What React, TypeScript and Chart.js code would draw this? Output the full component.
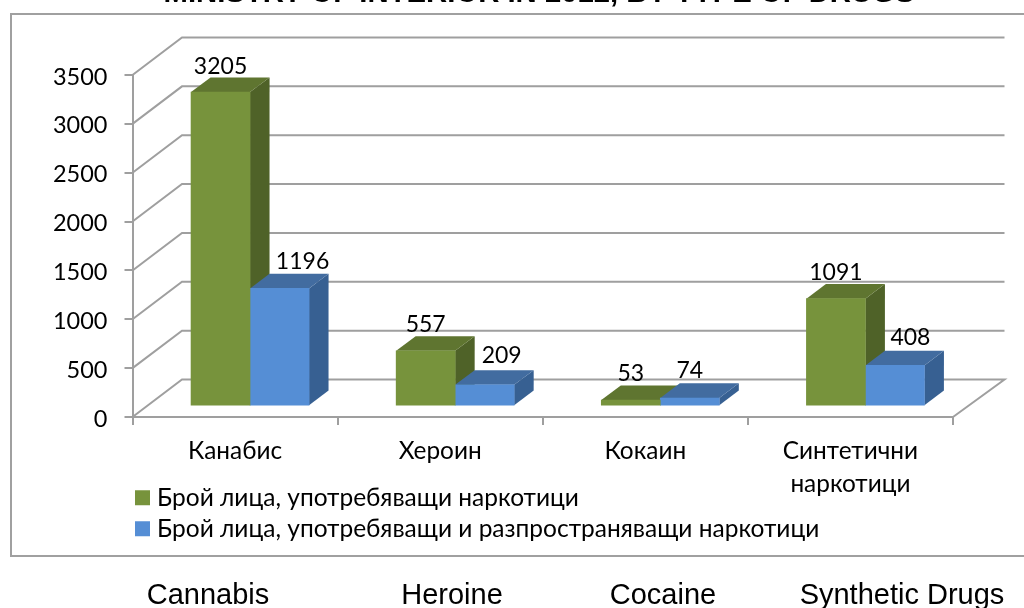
import React, { useEffect, useRef } from "react";
import { Chart, registerables } from "chart.js";

Chart.register(...registerables);

const categories: (string | string[])[] = ["Канабис", "Хероин", "Кокаин", ["Синтетични", "наркотици"]];
const englishCategories = ["Cannabis", "Heroine", "Cocaine", "Synthetic Drugs"];
const users = [3205, 557, 53, 1091];
const usersAndDealers = [1196, 209, 74, 408];
const seriesNames = [
  "Брой лица, употребяващи наркотици",
  "Брой лица, употребяващи и разпространяващи наркотици",
];
const titleText = "MINISTRY OF INTERIOR IN 2012, BY TYPE OF DRUGS";

const FONT = "Lato, 'Noto Sans', sans-serif";
const GRID = "#9f9f9f";
const colors = ["#77933c", "#558ed5"];
const faces = [
  { top: "#5f7530", side: "#4f6228" },
  { top: "#426ca0", side: "#376092" },
];
const DX = 19.5;
const DY = 14.7;
const WALL_DX = 49.5;
const WALL_DY = 37.5;
const labelShift = [
  [{ x: 0, y: 18 }, { x: 0, y: 19 }, { x: 0, y: 19 }, { x: 0, y: 18.5 }],
  [{ x: 23, y: 19 }, { x: 17, y: 22 }, { x: 0, y: 20 }, { x: 15.5, y: 20 }],
];
const englishX = [208, 452, 663, 902];

const threeD = {
  id: "threeD",
  beforeDraw(chart: any) {
    const { ctx, legend } = chart;
    ctx.save();
    ctx.strokeStyle = "#a0a0a0";
    ctx.lineWidth = 2;
    ctx.beginPath();
    ctx.moveTo(1024, 14);
    ctx.lineTo(11, 14);
    ctx.lineTo(11, 556);
    ctx.lineTo(1024, 556);
    ctx.stroke();
    ctx.restore();
    legend.left = 133.7;
    legend.right = 1024;
    legend.top = 478.9;
  },
  beforeDatasetsDraw(chart: any) {
    const { ctx, scales } = chart;
    const y = scales.y;
    const left = scales.x.left;
    const right = scales.x.right;
    ctx.save();
    ctx.strokeStyle = GRID;
    ctx.lineWidth = 2;
    y.ticks.forEach((t: any) => {
      const py = y.getPixelForValue(t.value);
      ctx.beginPath();
      ctx.moveTo(left, py);
      ctx.lineTo(left + WALL_DX, py - WALL_DY);
      ctx.lineTo(right + WALL_DX + 2, py - WALL_DY);
      if (t.value === 0) ctx.lineTo(right, py);
      ctx.stroke();
    });
    chart.data.datasets.forEach((_: any, d: number) => {
      chart.getDatasetMeta(d).data.forEach((bar: any) => {
        const l = bar.x - bar.width / 2;
        const r = bar.x + bar.width / 2;
        ctx.fillStyle = faces[d].side;
        ctx.beginPath();
        ctx.moveTo(r, bar.y);
        ctx.lineTo(r + DX, bar.y - DY);
        ctx.lineTo(r + DX, bar.base - DY);
        ctx.lineTo(r, bar.base);
        ctx.closePath();
        ctx.fill();
        ctx.fillStyle = faces[d].top;
        ctx.beginPath();
        ctx.moveTo(l, bar.y);
        ctx.lineTo(l + DX, bar.y - DY);
        ctx.lineTo(r + DX, bar.y - DY);
        ctx.lineTo(r, bar.y);
        ctx.closePath();
        ctx.fill();
      });
    });
    ctx.restore();
  },
  afterDatasetsDraw(chart: any) {
    const { ctx } = chart;
    ctx.save();
    ctx.fillStyle = "#000";
    ctx.font = `23px ${FONT}`;
    ctx.textAlign = "center";
    ctx.textBaseline = "alphabetic";
    chart.data.datasets.forEach((ds: any, d: number) => {
      chart.getDatasetMeta(d).data.forEach((bar: any, i: number) => {
        const s = labelShift[d][i];
        ctx.fillText(String(ds.data[i].y), bar.x + s.x, bar.y - s.y);
      });
    });
    ctx.font = "bold 29.3px 'Liberation Sans', Arial, sans-serif";
    ctx.fillText(titleText, 539, 2);
    ctx.font = "29px 'Liberation Sans', Arial, sans-serif";
    englishCategories.forEach((c, i) => ctx.fillText(c, englishX[i], 604));
    ctx.restore();
  },
};

export default function App() {
  const ref = useRef<HTMLCanvasElement>(null);
  useEffect(() => {
    const chart = new Chart(ref.current as HTMLCanvasElement, {
      type: "bar",
      data: {
        labels: categories as any,
        datasets: [
          { label: seriesNames[0], data: users.map((v, i) => ({ x: i, y: v })), backgroundColor: colors[0], xAxisID: "xBars", yAxisID: "yBars", barThickness: 59 },
          { label: seriesNames[1], data: usersAndDealers.map((v, i) => ({ x: i, y: v })), backgroundColor: colors[1], xAxisID: "xBars", yAxisID: "yBars", barThickness: 59 },
        ] as any,
      },
      options: {
        responsive: false,
        animation: false,
        layout: { padding: { top: 75, left: 0, right: 71, bottom: 0 } },
        plugins: {
          tooltip: { enabled: false },
          title: { display: false },
          legend: {
            display: true,
            position: "bottom",
            align: "start",
            labels: {
              boxWidth: 4.6,
              boxHeight: 4.6,
              padding: 6.5,
              color: "#000",
              font: { family: FONT, size: 24.5, lineHeight: 1 },
              generateLabels: () =>
                seriesNames.map((text, i) => ({
                  text,
                  fillStyle: colors[i],
                  strokeStyle: colors[i],
                  lineWidth: 10.4,
                  fontColor: "#000",
                  datasetIndex: i,
                })),
            },
          },
        },
        scales: {
          x: {
            type: "category",
            position: "bottom",
            offset: true,
            grid: { offset: true, drawOnChartArea: false, drawTicks: true, tickLength: 8, color: GRID, lineWidth: 2 },
            border: { color: GRID, width: 2 },
            ticks: { color: "#000", maxRotation: 0, autoSkip: false, padding: 10, font: { family: FONT, size: 24.4, lineHeight: 1.35 } },
            afterFit(s: any) {
              s.height = 191 - s.chart.legend.height;
            },
          },
          y: {
            type: "linear",
            position: "left",
            min: 0,
            max: 3500,
            grid: { drawOnChartArea: false, tickLength: 8, color: GRID, lineWidth: 2 },
            border: { color: GRID, width: 2 },
            ticks: { stepSize: 500, color: "#000", padding: 17, labelOffset: 2, font: { family: FONT, size: 23.5 }, callback: (v: any) => String(v) },
            afterFit(s: any) {
              s.width = 132.5;
            },
          },
          xBars: { type: "linear", axis: "x", display: false, offset: false, grid: { offset: false }, min: -0.573, max: 3.427, position: "bottom" },
          yBars: { type: "linear", axis: "y", display: false, min: -120, max: 3380, position: "left" },
        } as any,
      },
      plugins: [threeD],
    });
    return () => chart.destroy();
  }, []);
  return <canvas ref={ref} width={1024} height={608} style={{ position: "absolute", left: 0, top: 0, display: "block", background: "#fff" }} />;
}
